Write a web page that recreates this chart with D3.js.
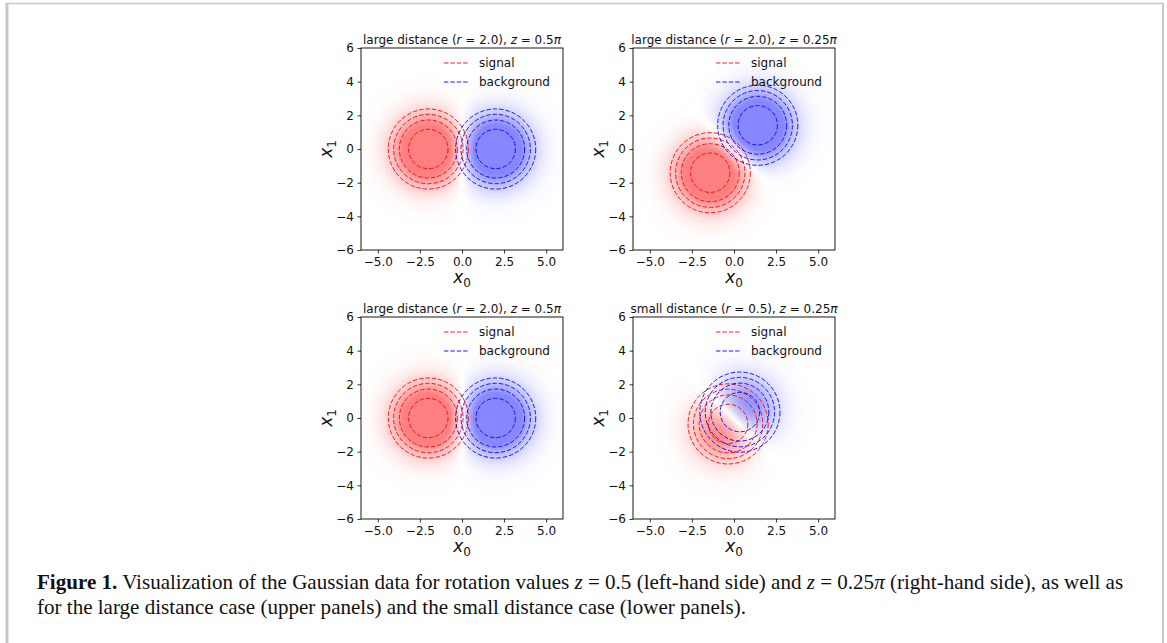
<!DOCTYPE html>
<html>
<head>
<meta charset="utf-8">
<script src="https://cdn.jsdelivr.net/npm/d3@7"></script>
<style>
  body { margin: 0; background: #fff; }
  svg { display: block; }
</style>
</head>
<body>
<svg id="fig" width="1167" height="643"></svg>
<script>
// panel data, in reading order: top-left, top-right, bottom-left, bottom-right
const titleLabels = ['large distance', 'large distance', 'large distance', 'small distance'];
const rValues = ['2.0', '2.0', '2.0', '0.5'];
const zValues = ['0.5', '0.25', '0.5', '0.25'];
const signalCenters = [[-2, 0], [-1.41, -1.41], [-2, 0], [-0.35, -0.35]];
const backgroundCenters = [[2, 0], [1.41, 1.41], [2, 0], [0.35, 0.35]];
const contourRadii = [1.17, 1.72, 2.06, 2.38];
const legendLabels = ['signal', 'background'];
const xTicks = [-5, -2.5, 0, 2.5, 5];
const yTicks = [-6, -4, -2, 0, 2, 4, 6];

const svg = d3.select('#fig');
const size = 202;
const panelX = [361, 633];
const panelY = [48, 317];
const sigma = 1.3, gain = 2.0, N = 101;
const dash = '4.4,2';

const minus = (s) => s.replace('-', '\u2212');

// frame around the figure
svg.append('line').attr('x1', 7).attr('x2', 7).attr('y1', 3).attr('y2', 643)
  .attr('stroke', '#c8c8c8').attr('stroke-width', 3);
svg.append('line').attr('x1', 1163).attr('x2', 1163).attr('y1', 3).attr('y2', 643)
  .attr('stroke', '#c8c8c8').attr('stroke-width', 2);
svg.append('line').attr('x1', 6).attr('x2', 1164).attr('y1', 3.5).attr('y2', 3.5)
  .attr('stroke', '#c8c8c8').attr('stroke-width', 1.5);

const grid = [];
const step = 12 / N;
for (let i = 0; i < N; i++) {
  for (let j = 0; j < N; j++) {
    grid.push([-6 + (i + 0.5) * step, -6 + (j + 0.5) * step]);
  }
}
const red = d3.interpolateRgb('#ffffff', '#ff0000');
const blue = d3.interpolateRgb('#ffffff', '#0000ff');

function gauss(p, c) {
  const dx = p[0] - c[0], dy = p[1] - c[1];
  return Math.exp(-(dx * dx + dy * dy) / (2 * sigma * sigma));
}

titleLabels.forEach((lab, k) => {
  const px = panelX[k % 2], py = panelY[Math.floor(k / 2)];
  const g = svg.append('g').attr('transform', 'translate(' + px + ',' + py + ')');

  const x = d3.scaleLinear().domain([-6, 6]).range([0, size]);
  const y = d3.scaleLinear().domain([-6, 6]).range([size, 0]);

  const clipId = 'clip' + k;
  g.append('clipPath').attr('id', clipId)
    .append('rect').attr('width', size).attr('height', size);

  const plot = g.append('g').attr('clip-path', 'url(#' + clipId + ')');

  // heat map: signal red, background blue
  const cw = x(step) - x(0);
  plot.append('g').attr('shape-rendering', 'crispEdges')
    .selectAll('rect').data(grid).enter().append('rect')
    .attr('x', (d) => x(d[0] - step / 2))
    .attr('y', (d) => y(d[1] + step / 2))
    .attr('width', cw + 0.6)
    .attr('height', cw + 0.6)
    .attr('fill', (d) => {
      let v = gain * (gauss(d, signalCenters[k]) - gauss(d, backgroundCenters[k]));
      v = Math.max(-1, Math.min(1, v));
      return v >= 0 ? red(v * 0.5) : blue(-v * 0.47);
    });

  // dashed contours
  [[signalCenters[k], '#ff0000'], [backgroundCenters[k], '#0000ff']].forEach(([c, col]) => {
    plot.append('g').selectAll('circle').data(contourRadii).enter().append('circle')
      .attr('cx', x(c[0]))
      .attr('cy', y(c[1]))
      .attr('r', (d) => x(d) - x(0))
      .attr('fill', 'none')
      .attr('stroke', col)
      .attr('stroke-width', 0.9)
      .attr('stroke-dasharray', dash);
  });

  // axes
  g.append('g').attr('transform', 'translate(0,' + size + ')')
    .call(d3.axisBottom(x).tickValues(xTicks).tickSize(3.5).tickPadding(3.5)
      .tickFormat((d) => minus(d.toFixed(1))))
    .call((a) => a.select('.domain').remove());
  g.append('g')
    .call(d3.axisLeft(y).tickValues(yTicks).tickSize(3.5).tickPadding(3.5)
      .tickFormat((d) => minus(String(d))))
    .call((a) => a.select('.domain').remove());
  g.selectAll('.tick line').attr('stroke', '#000').attr('stroke-width', 0.8);
  g.selectAll('.tick text')
    .style('font-family', '"DejaVu Sans", sans-serif')
    .style('font-size', '12px')
    .attr('fill', '#111');

  g.append('rect').attr('width', size).attr('height', size)
    .attr('fill', 'none').attr('stroke', '#000').attr('stroke-width', 0.9);

  // title
  const t = g.append('text').attr('x', size / 2).attr('y', -4)
    .attr('text-anchor', 'middle')
    .style('font-family', '"DejaVu Sans", sans-serif').style('font-size', '12px').attr('fill', '#111');
  t.append('tspan').text(lab + ' (');
  t.append('tspan').style('font-style', 'italic').text('r');
  t.append('tspan').text(' = ' + rValues[k] + '), ');
  t.append('tspan').style('font-style', 'italic').text('z');
  t.append('tspan').text(' = ' + zValues[k]);
  t.append('tspan').style('font-style', 'italic').text('\u03c0');

  // axis labels
  const xl = g.append('text').attr('x', size / 2).attr('y', size + 33)
    .attr('text-anchor', 'middle')
    .style('font-family', '"DejaVu Sans", sans-serif').style('font-size', '17px').attr('fill', '#111');
  xl.append('tspan').style('font-style', 'italic').text('x');
  xl.append('tspan').attr('dy', 4).style('font-size', '12px').text('0');

  const yl = g.append('text')
    .attr('transform', 'translate(-29,' + (size / 2) + ') rotate(-90)')
    .attr('text-anchor', 'middle')
    .style('font-family', '"DejaVu Sans", sans-serif').style('font-size', '17px').attr('fill', '#111');
  yl.append('tspan').style('font-style', 'italic').text('x');
  yl.append('tspan').attr('dy', 4).style('font-size', '12px').text('1');

  // legend
  const leg = g.append('g').attr('transform', 'translate(83,15)');
  legendLabels.forEach((s, i) => {
    leg.append('line').attr('x1', 0).attr('x2', 25).attr('y1', i * 19).attr('y2', i * 19)
      .attr('stroke', i === 0 ? '#ff0000' : '#0000ff').attr('stroke-width', 0.9)
      .attr('stroke-dasharray', dash);
    leg.append('text').attr('x', 35).attr('y', i * 19).attr('dy', '0.35em')
      .style('font-family', '"DejaVu Sans", sans-serif').style('font-size', '12px')
      .attr('fill', '#111').text(s);
  });
});

// caption
const capFont = '"Liberation Serif", "Times New Roman", serif';
const c1 = svg.append('text').attr('x', 37).attr('y', 589)
  .style('font-family', capFont).style('font-size', '17.5px').attr('fill', '#111');
c1.append('tspan').style('font-weight', 'bold').text('Figure 1.');
c1.append('tspan').text(' Visualization of the Gaussian data for rotation values ');
c1.append('tspan').style('font-style', 'italic').text('z');
c1.append('tspan').text(' = 0.5 (left-hand side) and ');
c1.append('tspan').style('font-style', 'italic').text('z');
c1.append('tspan').text(' = 0.25');
c1.append('tspan').style('font-style', 'italic').text('\u03c0');
c1.append('tspan').text(' (right-hand side), as well as');

const c2 = svg.append('text').attr('x', 37).attr('y', 614)
  .style('font-family', capFont).style('font-size', '17.5px').attr('fill', '#111')
  .text('for the large distance case (upper panels) and the small distance case (lower panels).');

// fit caption width to the reference line length
const w1 = c1.node().getComputedTextLength();
const fs = 17.5 * 1087 / w1;
c1.style('font-size', fs + 'px');
c2.style('font-size', fs + 'px');
</script>
</body>
</html>
